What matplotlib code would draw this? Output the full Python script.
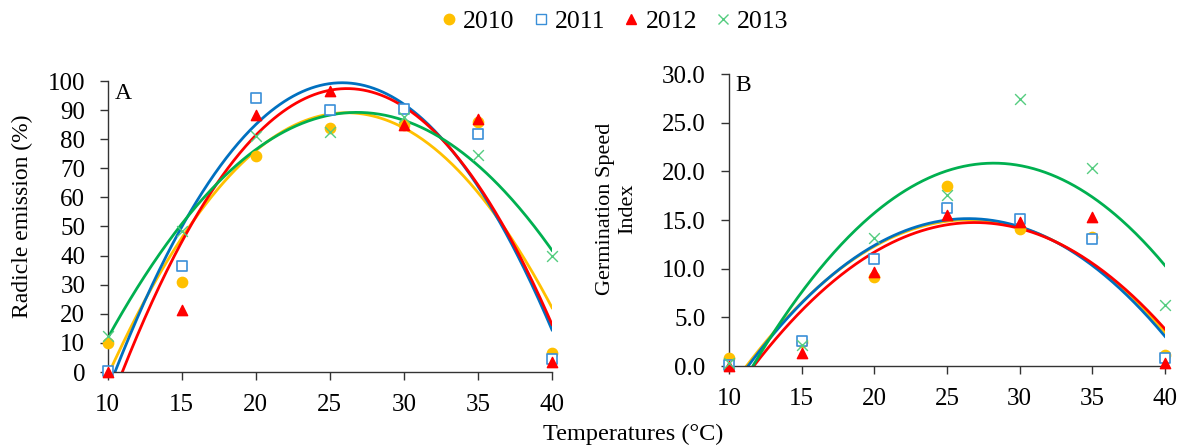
import numpy as np
import matplotlib.pyplot as plt

plt.rcParams['font.family'] = ['Liberation Serif', 'DejaVu Serif']

temps = [10, 15, 20, 25, 30, 35, 40]
years = ['2010', '2011', '2012', '2013']

# radicle emission (%)
rad_2010 = [10.1, 31.0, 74.3, 84.0, 85.0, 86.0, 6.5]
rad_2011 = [0.5, 36.4, 94.3, 89.9, 90.3, 81.7, 4.5]
rad_2012 = [0.0, 21.2, 88.4, 96.4, 85.0, 87.0, 3.3]
rad_2013 = [12.3, 48.5, 81.0, 82.5, 87.5, 74.7, 39.8]

# germination speed index
gsi_2010 = [0.8, 2.5, 9.1, 18.5, 14.1, 13.3, 1.1]
gsi_2011 = [0.1, 2.6, 11.0, 16.2, 15.1, 13.0, 0.8]
gsi_2012 = [0.0, 1.3, 9.7, 15.5, 14.8, 15.3, 0.3]
gsi_2013 = [0.3, 2.2, 13.2, 17.6, 27.4, 20.3, 6.3]

line_cols = ['#FFC000', '#0070C0', '#FF0000', '#00B050']
mk_cols = ['#FFC000', '#3A8FD8', '#FF0000', '#55CC80']
markers = ['o', 's', '^', 'x']

W, H = 1179, 448
fig = plt.figure(figsize=(W / 100, H / 100), dpi=100)
axA = fig.add_axes([107.5 / W, 76 / H, 444.5 / W, 291 / H])
axB = fig.add_axes([729 / W, 82 / H, 436 / W, 292 / H])

xs = np.linspace(10, 40, 300)


def draw(ax, series):
    # quadratic trend line per year, then the observed points on top
    for vals, lc in zip(series, line_cols):
        coef = np.polyfit(temps, vals, 2)
        ax.plot(xs, np.polyval(coef, xs), color=lc, lw=2, zorder=2)
    for vals, mc, m in zip(series, mk_cols, markers):
        if m == 's':
            ax.scatter(temps, vals, marker=m, s=55, facecolors='white',
                       edgecolors=mc, linewidths=1.2, zorder=3, clip_on=False)
        elif m == 'x':
            ax.scatter(temps, vals, marker=m, s=60, color=mc,
                       linewidths=1.0, zorder=4, clip_on=False)
        else:
            ax.scatter(temps, vals, marker=m, s=55, color=mc,
                       zorder=3, clip_on=False)
    ax.set_xlim(10, 40)
    ax.set_xticks(temps)
    for s in ['top', 'right']:
        ax.spines[s].set_visible(False)
    for s in ['left', 'bottom']:
        ax.spines[s].set_color('#333333')
        ax.spines[s].set_linewidth(1.0)
    ax.tick_params(labelsize=18, direction='out', length=5.5, width=1,
                   color='#333333')
    ax.tick_params(axis='x', pad=10.5)


draw(axA, [rad_2010, rad_2011, rad_2012, rad_2013])
axA.set_ylim(0, 100)
axA.set_yticks(range(0, 101, 10))
axA.tick_params(axis='y', pad=10.5)
axA.set_ylabel('Radicle emission (%)', fontsize=17)
axA.yaxis.set_label_coords(-0.168, 0.536)
axA.text(0.017, 0.938, 'A', transform=axA.transAxes, fontsize=17, va='baseline')

draw(axB, [gsi_2010, gsi_2011, gsi_2012, gsi_2013])
axB.set_ylim(0, 30)
gsi_ticks = np.arange(0, 30.1, 5)
axB.set_yticks(gsi_ticks)
axB.set_yticklabels([f'{v:.1f}' for v in gsi_ticks])
axB.tick_params(axis='y', pad=11.5)
axB.set_ylabel('Germination Speed\nIndex', fontsize=16, linespacing=1.25)
axB.yaxis.set_label_coords(-0.211, 0.538)
axB.text(0.014, 0.942, 'B', transform=axB.transAxes, fontsize=17, va='baseline')

fig.text(633.5 / W, 8 / H, 'Temperatures (°C)', ha='center', va='baseline',
         fontsize=17.5)

handles = []
for mc, m in zip(mk_cols, markers):
    if m == 's':
        h = plt.Line2D([], [], ls='none', marker=m, markersize=7.5,
                       markerfacecolor='white', markeredgecolor=mc)
    else:
        h = plt.Line2D([], [], ls='none', marker=m, markersize=7.5,
                       color=mc, markeredgecolor=mc)
    handles.append(h)
fig.legend(handles, years, loc='center', bbox_to_anchor=(615 / W, 1 - 22 / H),
           ncol=4, frameon=False, fontsize=18.5, handlelength=0.6,
           handletextpad=0.25, columnspacing=0.71, borderpad=0.2)

fig.savefig('out.png', dpi=100)
